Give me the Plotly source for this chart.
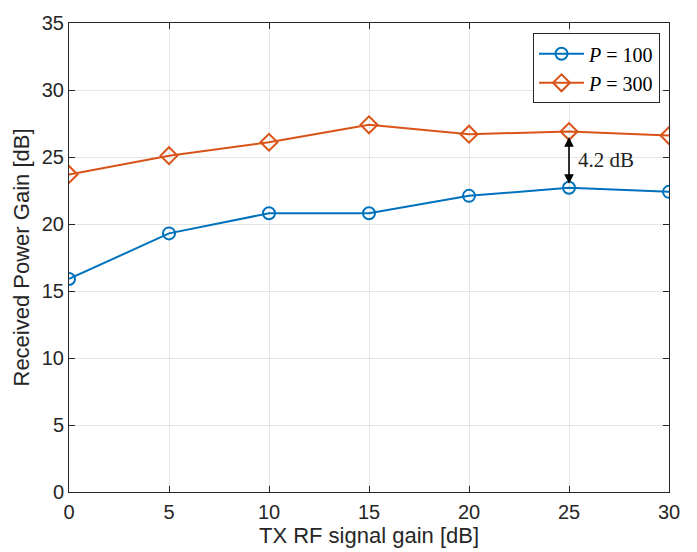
import plotly.graph_objects as go

# TX RF signal gain settings [dB]
tx_gain = [0, 5, 10, 15, 20, 25, 30]
# Received power gain [dB] for each array size P
gain_p100 = [15.9, 19.3, 20.8, 20.8, 22.1, 22.7, 22.4]
gain_p300 = [23.7, 25.1, 26.1, 27.4, 26.7, 26.9, 26.6]

x_ticks = [0, 5, 10, 15, 20, 25, 30]
y_ticks = [0, 5, 10, 15, 20, 25, 30, 35]

blue = "#0072BD"
orange = "#D95319"
sans = "Liberation Sans, Arial"
serif = "Liberation Serif, Times New Roman"

fig = go.Figure()
fig.add_trace(go.Scatter(
    x=tx_gain, y=gain_p100, mode="lines+markers",
    name="<i>P</i> = 100",
    line=dict(color=blue, width=2),
    marker=dict(symbol="circle-open", size=12, color=blue, line=dict(width=2)),
))
fig.add_trace(go.Scatter(
    x=tx_gain, y=gain_p300, mode="lines+markers",
    name="<i>P</i> = 300",
    line=dict(color=orange, width=2),
    marker=dict(symbol="diamond-open", size=13, color=orange, line=dict(width=2)),
))

# Double-headed arrow marking the gap at 25 dB
gap_x = tx_gain[5]
fig.add_annotation(
    x=gap_x, y=gain_p100[5], ax=gap_x, ay=gain_p300[5],
    xref="x", yref="y", axref="x", ayref="y",
    text="", showarrow=True, arrowhead=2, arrowside="end+start",
    arrowsize=1.2, arrowwidth=1.6, arrowcolor="black",
    standoff=4, startstandoff=4,
)
fig.add_annotation(
    x=gap_x + 0.35, y=(gain_p100[5] + gain_p300[5]) / 2,
    xref="x", yref="y", showarrow=False, xanchor="left",
    text=f"{gain_p300[5] - gain_p100[5]:.1f} dB",
    font=dict(family=serif, size=21, color="#222"),
)

axis_common = dict(
    showline=True, linecolor="#262626", linewidth=1, mirror="ticks",
    ticks="inside", ticklen=6, tickcolor="#262626",
    showgrid=True, gridcolor="#E5E5E5", gridwidth=1,
    zeroline=False,
    tickfont=dict(family=sans, size=20, color="#262626"),
)

fig.update_layout(
    width=697, height=552,
    margin=dict(l=69, r=28, t=20, b=59),
    paper_bgcolor="white", plot_bgcolor="white",
    xaxis=dict(range=[0, 30], tickvals=x_ticks, ticklabelstandoff=2,
               title=dict(text="TX RF signal gain [dB]", standoff=2,
                          font=dict(family=sans, size=22, color="#262626")),
               **axis_common),
    yaxis=dict(range=[0, 35], tickvals=y_ticks,
               title=dict(text="Received Power Gain [dB]", standoff=6,
                          font=dict(family=sans, size=22, color="#262626")),
               **axis_common),
    legend=dict(
        x=0.985, y=0.978, xanchor="right", yanchor="top",
        bgcolor="white", bordercolor="#262626", borderwidth=1,
        font=dict(family=serif, size=20, color="black"),
        tracegroupgap=0, itemwidth=45,
    ),
    showlegend=True,
)

fig.write_html("out.html")
